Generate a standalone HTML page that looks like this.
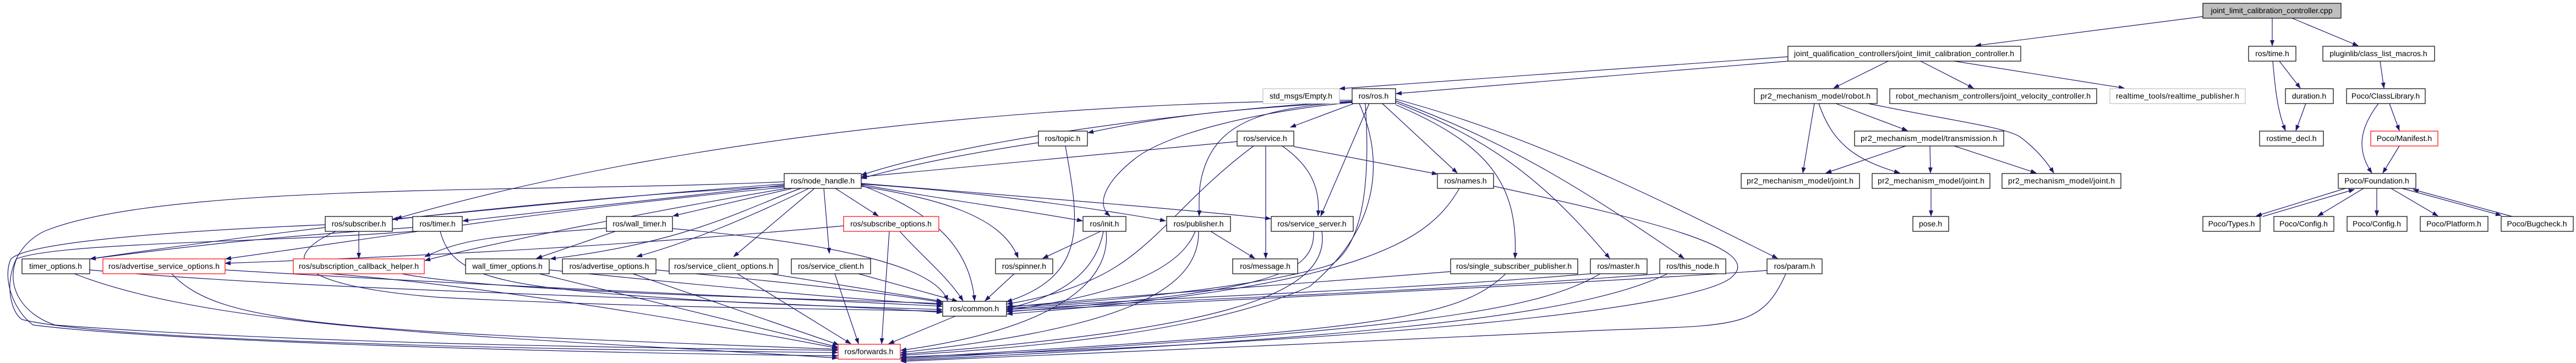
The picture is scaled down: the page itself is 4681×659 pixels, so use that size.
<!DOCTYPE html>
<html><head><meta charset="utf-8"><style>
html,body{margin:0;padding:0;background:#fff;}
svg{display:block;}
text{font-family:"Liberation Sans",sans-serif;font-size:14px;fill:#000;text-anchor:middle;}
.e{fill:none;stroke:#191970;stroke-width:1.2;marker-end:url(#a);}
.n{fill:#fff;stroke:#000;stroke-width:1.2;}
.r{fill:#fff;stroke:#ff0000;stroke-width:1.2;}
.g{fill:#fff;stroke:#bfbfbf;stroke-width:1.2;}
</style></head><body>
<svg width="4681" height="659" viewBox="0 0 4681 659" xmlns="http://www.w3.org/2000/svg">
<defs><marker id="a" markerWidth="11" markerHeight="8" refX="10" refY="4" orient="auto" markerUnits="userSpaceOnUse"><path d="M0,0 L11,4 L0,8 z" fill="#191970"/></marker></defs>
<g>
<!-- top right -->
<path class="e" d="M4129,33 L4129,83"/>
<path class="e" d="M4165,33 L4285,83"/>
<path class="e" d="M4003,30 L3590,83"/>
<path class="e" d="M3249,103 L2434,161"/>
<path class="e" d="M3249,111 L2537,170"/>
<path class="e" d="M3431,111 L3332,160"/>
<path class="e" d="M3490,111 L3586,160"/>
<path class="e" d="M3551,111 L3860,160"/>
<path class="e" d="M3297,188 L3276,314"/>
<path class="e" d="M3305,188 C3330,260 3370,290 3452,314"/>
<path class="e" d="M3336,188 L3466,237"/>
<path class="e" d="M3395,188 C3550,220 3640,230 3670,248 C3700,270 3720,295 3732,314"/>
<path class="e" d="M3463,265 L3318,314"/>
<path class="e" d="M3507,265 L3508,314"/>
<path class="e" d="M3551,265 L3700,314"/>
<path class="e" d="M3509,342 L3509,392"/>
<path class="e" d="M4130,111 C4135,170 4140,205 4153,237"/>
<path class="e" d="M4142,111 L4180,160"/>
<path class="e" d="M4190,188 L4172,237"/>
<path class="e" d="M4325,111 L4332,160"/>
<path class="e" d="M4322,188 C4290,230 4280,270 4310,314"/>
<path class="e" d="M4342,188 L4360,237"/>
<path class="e" d="M4360,265 L4330,314"/>
<path class="e" d="M4262,342 L4100,392"/>
<path class="e" d="M4112,393 L4278,344"/>
<path class="e" d="M4295,342 L4212,392"/>
<path class="e" d="M4319,342 L4319,392"/>
<path class="e" d="M4345,342 L4430,392"/>
<path class="e" d="M4365,342 L4545,391"/>
<path class="e" d="M4565,393 L4385,344"/>
<!-- ros.h -->
<path class="e" d="M2512,188 L2648,314"/>
<path class="e" d="M2536,190 C2700,260 2760,330 2753,469"/>
<path class="e" d="M2536,186 C2700,250 2800,320 2925,469"/>
<path class="e" d="M2536,183 C2750,260 2900,360 3060,469"/>
<path class="e" d="M2536,180 C2800,250 3050,380 3230,469"/>
<path class="e" d="M2488,188 L2400,392"/>
<path class="e" d="M2481,188 C2490,320 2480,440 2420,480 C2300,520 2000,550 1830,556"/>
<path class="e" d="M2470,188 C2520,300 2500,420 2380,520 C2200,600 1900,630 1637,645"/>
<path class="e" d="M2460,188 L2345,231"/>
<path class="e" d="M2457,185 C2200,200 2100,215 1977,241"/>
<path class="e" d="M2457,184 C2300,190 1800,240 1565,318"/>
<path class="e" d="M2457,186 C2300,200 2120,240 2060,290 C2010,330 1990,370 2017,392"/>
<path class="e" d="M2457,185 C2300,195 2220,220 2190,300 C2175,340 2180,370 2179,392"/>
<path class="e" d="M2457,182 C2000,185 1300,230 720,397"/>
<!-- service.h, topic.h -->
<path class="e" d="M2248,257 L1565,321"/>
<path class="e" d="M2300,265 L2300,469"/>
<path class="e" d="M2330,265 C2380,300 2400,340 2395,392"/>
<path class="e" d="M2351,266 L2612,316"/>
<path class="e" d="M2278,265 C2150,360 2100,450 2000,500 C1950,525 1900,540 1830,552"/>
<path class="e" d="M1887,259 C1750,280 1650,300 1565,324"/>
<path class="e" d="M1936,265 C1960,400 1980,500 1829,548"/>
<!-- node_handle -->
<path class="e" d="M1425,334 C1200,350 900,380 713,398"/>
<path class="e" d="M1425,336 C1200,360 1000,385 841,401"/>
<path class="e" d="M1440,342 L1223,392"/>
<path class="e" d="M1425,338 C1000,360 500,420 164,470"/>
<path class="e" d="M1425,340 C1000,380 700,430 410,470"/>
<path class="e" d="M1430,342 C1200,380 900,440 772,473"/>
<path class="e" d="M1455,342 C1350,380 1250,440 1000,470"/>
<path class="e" d="M1470,342 C1350,400 1250,440 1157,466"/>
<path class="e" d="M1480,342 L1333,466"/>
<path class="e" d="M1497,342 L1507,460"/>
<path class="e" d="M1518,342 L1596,392"/>
<path class="e" d="M1565,338 C1700,360 1820,390 1850,468"/>
<path class="e" d="M1565,336 C1650,370 1760,420 1771,546"/>
<path class="e" d="M1565,335 C1700,360 1850,380 1967,401"/>
<path class="e" d="M1565,334 C1800,350 2000,380 2118,401"/>
<path class="e" d="M1565,333 C1900,360 2150,380 2309,397"/>
<path class="e" d="M1425,330 C1000,350 300,330 80,420 C0,460 10,560 40,580 C200,620 1000,635 1522,640"/>
<!-- row5 -->
<path class="e" d="M652,420 L652,469"/>
<path class="e" d="M591,408 C300,420 50,440 20,470 C5,500 20,560 60,590 C300,620 1000,640 1522,646"/>
<path class="e" d="M610,420 C500,470 540,520 800,540 C1200,560 1500,560 1712,565"/>
<path class="e" d="M750,413 C500,430 400,440 164,470"/>
<path class="e" d="M750,420 C500,440 100,440 30,470 C10,520 40,570 100,590 C500,620 1000,630 1522,636"/>
<path class="e" d="M800,420 C820,500 900,520 1200,540 C1400,555 1600,558 1712,562"/>
<path class="e" d="M1102,414 C900,430 850,430 772,466"/>
<path class="e" d="M1118,420 L975,469"/>
<path class="e" d="M1222,415 C1500,440 1700,480 1722,546"/>
<path class="e" d="M1533,410 C1200,440 900,460 409,478"/>
<path class="e" d="M1616,420 L1602,624"/>
<path class="e" d="M1635,420 C1680,470 1720,500 1750,546"/>
<path class="e" d="M2000,420 L1895,469"/>
<path class="e" d="M2005,420 C1990,500 1920,540 1830,560"/>
<path class="e" d="M2010,420 C2020,520 1900,600 1637,636"/>
<path class="e" d="M2200,420 L2280,469"/>
<path class="e" d="M2172,420 C2140,500 2000,540 1830,563"/>
<path class="e" d="M2178,420 C2180,540 2000,600 1637,640"/>
<path class="e" d="M2387,420 C2390,500 2300,530 1830,566"/>
<path class="e" d="M2402,420 C2420,540 2200,600 1637,643"/>
<!-- row4 names -->
<path class="e" d="M2652,342 C2600,430 2500,520 1830,570"/>
<path class="e" d="M2714,338 C3000,400 3200,450 3150,500 C3100,560 2500,620 1637,648"/>
<!-- row6 -->
<path class="e" d="M135,497 C400,600 900,610 1522,650"/>
<path class="e" d="M163,490 C600,530 1300,540 1712,567"/>
<path class="e" d="M312,497 C400,590 600,600 1522,634"/>
<path class="e" d="M409,490 C900,520 1400,540 1712,556"/>
<path class="e" d="M730,497 C900,530 1400,540 1712,551"/>
<path class="e" d="M600,497 C900,520 1300,590 1522,632"/>
<path class="e" d="M980,497 L1522,630"/>
<path class="e" d="M998,490 C1300,520 1500,540 1712,553"/>
<path class="e" d="M1150,497 L1524,626"/>
<path class="e" d="M1192,490 C1400,510 1600,530 1712,549"/>
<path class="e" d="M1340,497 L1546,624"/>
<path class="e" d="M1400,497 L1712,547"/>
<path class="e" d="M1517,497 L1560,624"/>
<path class="e" d="M1560,497 L1740,547"/>
<path class="e" d="M1843,497 L1790,546"/>
<path class="e" d="M2636,493 C2300,520 2000,540 1830,558"/>
<path class="e" d="M2736,497 C2650,580 2500,600 1637,650"/>
<path class="e" d="M2890,497 C2500,530 2100,540 1830,560"/>
<path class="e" d="M2908,497 C2800,560 2600,600 1637,652"/>
<path class="e" d="M3016,497 C2600,530 2100,545 1830,562"/>
<path class="e" d="M3030,497 C2900,560 2600,610 1637,654"/>
<path class="e" d="M3211,491 C2800,520 2100,550 1830,565"/>
<path class="e" d="M3245,497 C3200,600 3150,590 2900,600 C2500,620 2000,640 1637,656"/>
<path class="e" d="M1736,574 L1615,624"/>
</g>
<!-- nodes -->
<g>
<rect x="4003" y="6" width="251" height="27" fill="#bfbfbf" stroke="#000" stroke-width="1.2"/><text x="4128" y="24">joint_limit_calibration_controller.cpp</text>
<rect class="n" x="3249" y="84" width="423" height="27"/><text x="3460" y="102" textLength="400">joint_qualification_controllers/joint_limit_calibration_controller.h</text>
<rect class="n" x="4086" y="84" width="86" height="27"/><text x="4129" y="102">ros/time.h</text>
<rect class="n" x="4221" y="84" width="203" height="27"/><text x="4322" y="102">pluginlib/class_list_macros.h</text>
<rect class="g" x="2295" y="161" width="139" height="27"/><text x="2364" y="179">std_msgs/Empty.h</text>
<rect class="n" x="2457" y="161" width="79" height="27"/><text x="2496" y="179">ros/ros.h</text>
<rect class="n" x="3188" y="161" width="223" height="27"/><text x="3299" y="179" textLength="200">pr2_mechanism_model/robot.h</text>
<rect class="n" x="3434" y="161" width="376" height="27"/><text x="3622" y="179" textLength="354">robot_mechanism_controllers/joint_velocity_controller.h</text>
<rect class="g" x="3834" y="161" width="246" height="27"/><text x="3957" y="179" textLength="224">realtime_tools/realtime_publisher.h</text>
<rect class="n" x="4153" y="161" width="87" height="27"/><text x="4196" y="179">duration.h</text>
<rect class="n" x="4264" y="161" width="143" height="27"/><text x="4335" y="179">Poco/ClassLibrary.h</text>
<rect class="n" x="1887" y="238" width="89" height="27"/><text x="1931" y="256">ros/topic.h</text>
<rect class="n" x="2248" y="238" width="103" height="27"/><text x="2299" y="256">ros/service.h</text>
<rect class="n" x="3370" y="238" width="271" height="27"/><text x="3505" y="256" textLength="248">pr2_mechanism_model/transmission.h</text>
<rect class="n" x="4106" y="238" width="116" height="27"/><text x="4164" y="256">rostime_decl.h</text>
<rect class="r" x="4308" y="238" width="122" height="27"/><text x="4369" y="256">Poco/Manifest.h</text>
<rect class="n" x="1425" y="315" width="140" height="27"/><text x="1495" y="333">ros/node_handle.h</text>
<rect class="n" x="2612" y="315" width="102" height="27"/><text x="2663" y="333">ros/names.h</text>
<rect class="n" x="3164" y="315" width="215" height="27"/><text x="3271" y="333" textLength="194">pr2_mechanism_model/joint.h</text>
<rect class="n" x="3402" y="315" width="214" height="27"/><text x="3509" y="333" textLength="194">pr2_mechanism_model/joint.h</text>
<rect class="n" x="3638" y="315" width="216" height="27"/><text x="3746" y="333" textLength="194">pr2_mechanism_model/joint.h</text>
<rect class="n" x="4249" y="315" width="141" height="27"/><text x="4319" y="333">Poco/Foundation.h</text>
<rect class="n" x="591" y="393" width="122" height="27"/><text x="652" y="411">ros/subscriber.h</text>
<rect class="n" x="750" y="393" width="90" height="27"/><text x="795" y="411">ros/timer.h</text>
<rect class="n" x="1102" y="393" width="120" height="27"/><text x="1162" y="411">ros/wall_timer.h</text>
<rect class="r" x="1533" y="393" width="173" height="27"/><text x="1619" y="411">ros/subscribe_options.h</text>
<rect class="n" x="1968" y="393" width="78" height="27"/><text x="2007" y="411">ros/init.h</text>
<rect class="n" x="2120" y="393" width="116" height="27"/><text x="2178" y="411">ros/publisher.h</text>
<rect class="n" x="2310" y="393" width="149" height="27"/><text x="2384" y="411">ros/service_server.h</text>
<rect class="n" x="3476" y="393" width="65" height="27"/><text x="3508" y="411">pose.h</text>
<rect class="n" x="4003" y="393" width="104" height="27"/><text x="4055" y="411">Poco/Types.h</text>
<rect class="n" x="4132" y="393" width="109" height="27"/><text x="4186" y="411">Poco/Config.h</text>
<rect class="n" x="4265" y="393" width="109" height="27"/><text x="4319" y="411">Poco/Config.h</text>
<rect class="n" x="4398" y="393" width="123" height="27"/><text x="4459" y="411">Poco/Platform.h</text>
<rect class="n" x="4545" y="393" width="131" height="27"/><text x="4610" y="411">Poco/Bugcheck.h</text>
<rect class="n" x="40" y="470" width="123" height="27"/><text x="101" y="488">timer_options.h</text>
<rect class="r" x="187" y="470" width="222" height="27"/><text x="298" y="488" textLength="202">ros/advertise_service_options.h</text>
<rect class="r" x="533" y="470" width="238" height="27"/><text x="652" y="488" textLength="218">ros/subscription_callback_helper.h</text>
<rect class="n" x="846" y="470" width="152" height="27"/><text x="922" y="488">wall_timer_options.h</text>
<rect class="n" x="1022" y="470" width="170" height="27"/><text x="1107" y="488">ros/advertise_options.h</text>
<rect class="n" x="1216" y="470" width="198" height="27"/><text x="1315" y="488" textLength="180">ros/service_client_options.h</text>
<rect class="n" x="1438" y="470" width="144" height="27"/><text x="1510" y="488">ros/service_client.h</text>
<rect class="n" x="1809" y="470" width="104" height="27"/><text x="1861" y="488">ros/spinner.h</text>
<rect class="n" x="2240" y="470" width="118" height="27"/><text x="2299" y="488">ros/message.h</text>
<rect class="n" x="2636" y="470" width="231" height="27"/><text x="2751" y="488" textLength="210">ros/single_subscriber_publisher.h</text>
<rect class="n" x="2890" y="470" width="103" height="27"/><text x="2941" y="488">ros/master.h</text>
<rect class="n" x="3016" y="470" width="120" height="27"/><text x="3076" y="488">ros/this_node.h</text>
<rect class="n" x="3211" y="470" width="100" height="27"/><text x="3261" y="488">ros/param.h</text>
<rect class="n" x="1713" y="547" width="116" height="27"/><text x="1771" y="565">ros/common.h</text>
<rect class="r" x="1523" y="625" width="113" height="27"/><text x="1579" y="643">ros/forwards.h</text>
</g>
</svg>
</body></html>
